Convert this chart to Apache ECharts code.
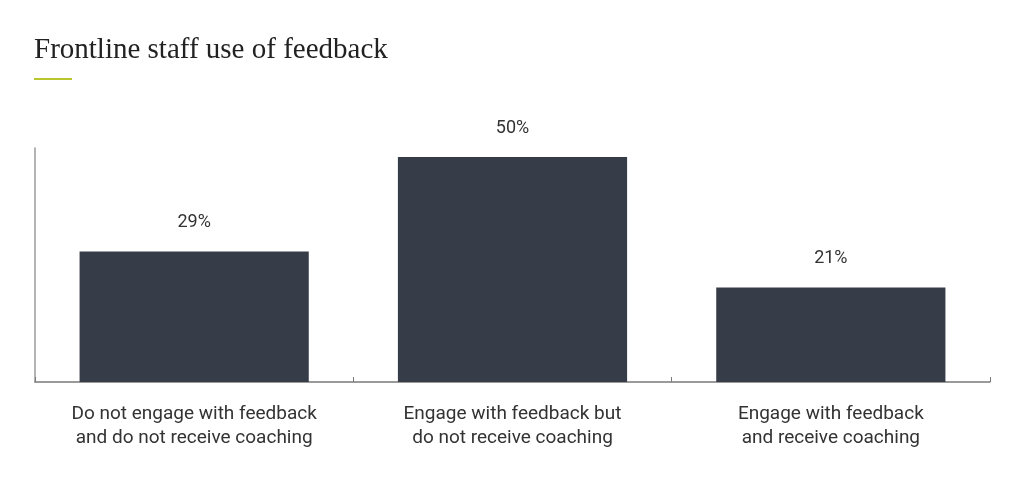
<!DOCTYPE html>
<html><head><meta charset="utf-8">
<script src="https://cdn.jsdelivr.net/npm/echarts@6/dist/echarts.min.js"></script>
<style>html,body{margin:0;padding:0;background:#fff}#c{width:1024px;height:480px}</style>
</head><body><div id="c"></div>
<script>
const categories = ["Do not engage with feedback\nand do not receive coaching", "Engage with feedback but\ndo not receive coaching", "Engage with feedback\nand receive coaching"];
const values = [29, 50, 21];
const chart = echarts.init(document.getElementById('c'));
chart.setOption({
  animation: false,
  backgroundColor: '#fff',
  title: {
    text: 'Frontline staff use of feedback', left: 29, top: 31,
    textStyle: { fontFamily: 'Liberation Serif', fontWeight: 'normal', fontSize: 29, color: '#222' }
  },
  graphic: [{ type: 'rect', left: 34, top: 78, shape: { width: 38, height: 2 }, style: { fill: '#b9c72d' } }],
  grid: { left: 35, right: 34, top: 148, bottom: 98 },
  xAxis: {
    type: 'category', data: categories,
    axisLine: { lineStyle: { color: '#7a7a7a', width: 1.5 } },
    axisTick: { show: true, inside: true, length: 5, interval: 0, lineStyle: { color: '#7a7a7a' } },
    axisLabel: { color: '#333', fontFamily: 'Roboto', fontSize: 19, lineHeight: 24, margin: 20, interval: 0 }
  },
  yAxis: {
    type: 'value', min: 0, max: 52,
    axisLine: { show: true, lineStyle: { color: '#9a9a9a', width: 1.5 } },
    axisTick: { show: false }, axisLabel: { show: false }, splitLine: { show: false }
  },
  series: [{
    type: 'bar', data: values, barWidth: '72%',
    itemStyle: { color: '#363d48' },
    label: { show: true, position: 'top', distance: 20, formatter: '{c}%', color: '#333', fontFamily: 'Roboto', fontSize: 18 }
  }]
});
</script></body></html>
